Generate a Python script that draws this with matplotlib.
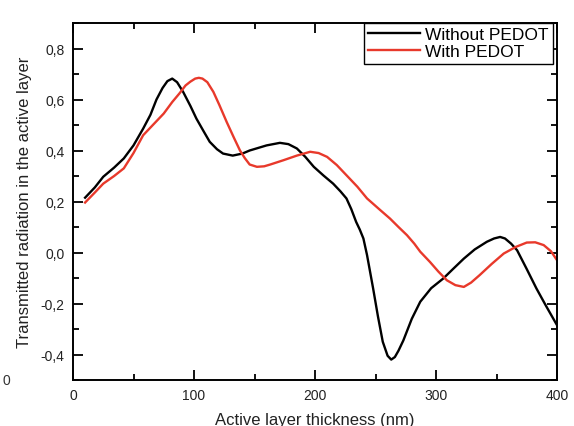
import matplotlib.pyplot as plt
from matplotlib.ticker import MultipleLocator, FuncFormatter

plt.rcParams['font.family'] = ['Liberation Sans', 'DejaVu Sans']

# thickness (nm) / transmitted radiation, without PEDOT
x_without = [10, 18, 25, 34, 42, 50, 58, 64, 69, 74, 78, 82, 86, 91, 97, 102, 108, 113,
             119, 124, 132, 140, 146, 153, 160, 171, 178, 185, 192, 199, 207, 215, 221,
             226, 230, 234, 237, 240, 243, 248, 252, 256, 260, 263, 266, 269, 273, 280,
             287, 296, 306, 314, 323, 332, 342, 348, 353, 357, 362, 367, 375, 383, 391, 400]
y_without = [0.215, 0.255, 0.297, 0.333, 0.369, 0.42, 0.486, 0.54, 0.6, 0.645, 0.672,
             0.682, 0.668, 0.63, 0.575, 0.525, 0.475, 0.434, 0.405, 0.388, 0.38, 0.388,
             0.40, 0.41, 0.42, 0.43, 0.425, 0.408, 0.375, 0.336, 0.302, 0.27, 0.24,
             0.212, 0.17, 0.12, 0.09, 0.055, -0.01, -0.14, -0.25, -0.35, -0.405, -0.42,
             -0.41, -0.385, -0.345, -0.26, -0.193, -0.14, -0.102, -0.065, -0.024, 0.012,
             0.042, 0.055, 0.061, 0.055, 0.035, 0.009, -0.065, -0.141, -0.21, -0.285]

# with PEDOT
x_with = [10, 18, 25, 34, 42, 50, 58, 66, 75, 82, 88, 93, 97, 101, 104, 107, 111, 116,
          121, 127, 133, 138, 142, 146, 152, 158, 163, 174, 185, 196, 203, 210, 218, 226,
          235, 243, 254, 262, 269, 276, 282, 287, 295, 302, 309, 316, 323, 329, 336,
          346, 356, 366, 375, 382, 389, 395, 400]
y_with = [0.196, 0.235, 0.27, 0.3, 0.33, 0.39, 0.46, 0.5, 0.545, 0.59, 0.624, 0.655,
          0.67, 0.682, 0.685, 0.682, 0.668, 0.63, 0.578, 0.512, 0.45, 0.40, 0.37,
          0.345, 0.336, 0.338, 0.345, 0.362, 0.38, 0.395, 0.39, 0.375, 0.343, 0.303,
          0.258, 0.212, 0.166, 0.133, 0.1, 0.068, 0.035, 0.003, -0.037, -0.075, -0.109,
          -0.128, -0.135, -0.118, -0.089, -0.045, -0.004, 0.022, 0.039, 0.04, 0.029,
          0.005, -0.03]

fig = plt.figure(figsize=(5.74, 4.27), dpi=100)
ax = fig.add_axes([73 / 574, 46 / 427, 484 / 574, 357 / 427])

ax.plot(x_without, y_without, color='black', lw=1.7, label='Without PEDOT',
        solid_joinstyle='round')
ax.plot(x_with, y_with, color='#e8392b', lw=1.7, label='With PEDOT',
        solid_joinstyle='round')

ax.set_xlim(0, 400)
ax.set_ylim(-0.5, 0.9)
ax.xaxis.set_major_locator(MultipleLocator(100))
ax.xaxis.set_minor_locator(MultipleLocator(50))
ax.yaxis.set_major_locator(MultipleLocator(0.2))
ax.yaxis.set_minor_locator(MultipleLocator(0.1))


def comma(v, pos):
    return f'{v:.1f}'.replace('.', ',')


ax.yaxis.set_major_formatter(FuncFormatter(comma))
ax.tick_params(which='both', direction='in', top=True, right=True, width=1.3,
               labelsize=10, labelcolor='#222222')
ax.tick_params(which='major', length=7, pad=6)
ax.tick_params(which='minor', length=4)
for s in ax.spines.values():
    s.set_linewidth(1.4)

ax.set_xlabel('Active layer thickness (nm)', fontsize=12, labelpad=7, color='#222222')
ax.set_ylabel('Transmitted radiation in the active layer', fontsize=12, labelpad=6,
              color='#222222')

leg = ax.legend(loc='upper right', bbox_to_anchor=(480 / 484, 1.0), borderaxespad=0,
                fancybox=False, edgecolor='black', fontsize=12.5, handlelength=3,
                handletextpad=0.3, borderpad=0.25, labelspacing=0.1, framealpha=1)
leg.get_frame().set_linewidth(1.0)

fig.text(0.005, 46 / 427, '0', fontsize=10, va='center', color='#333333')

fig.savefig('out.png', dpi=100)
